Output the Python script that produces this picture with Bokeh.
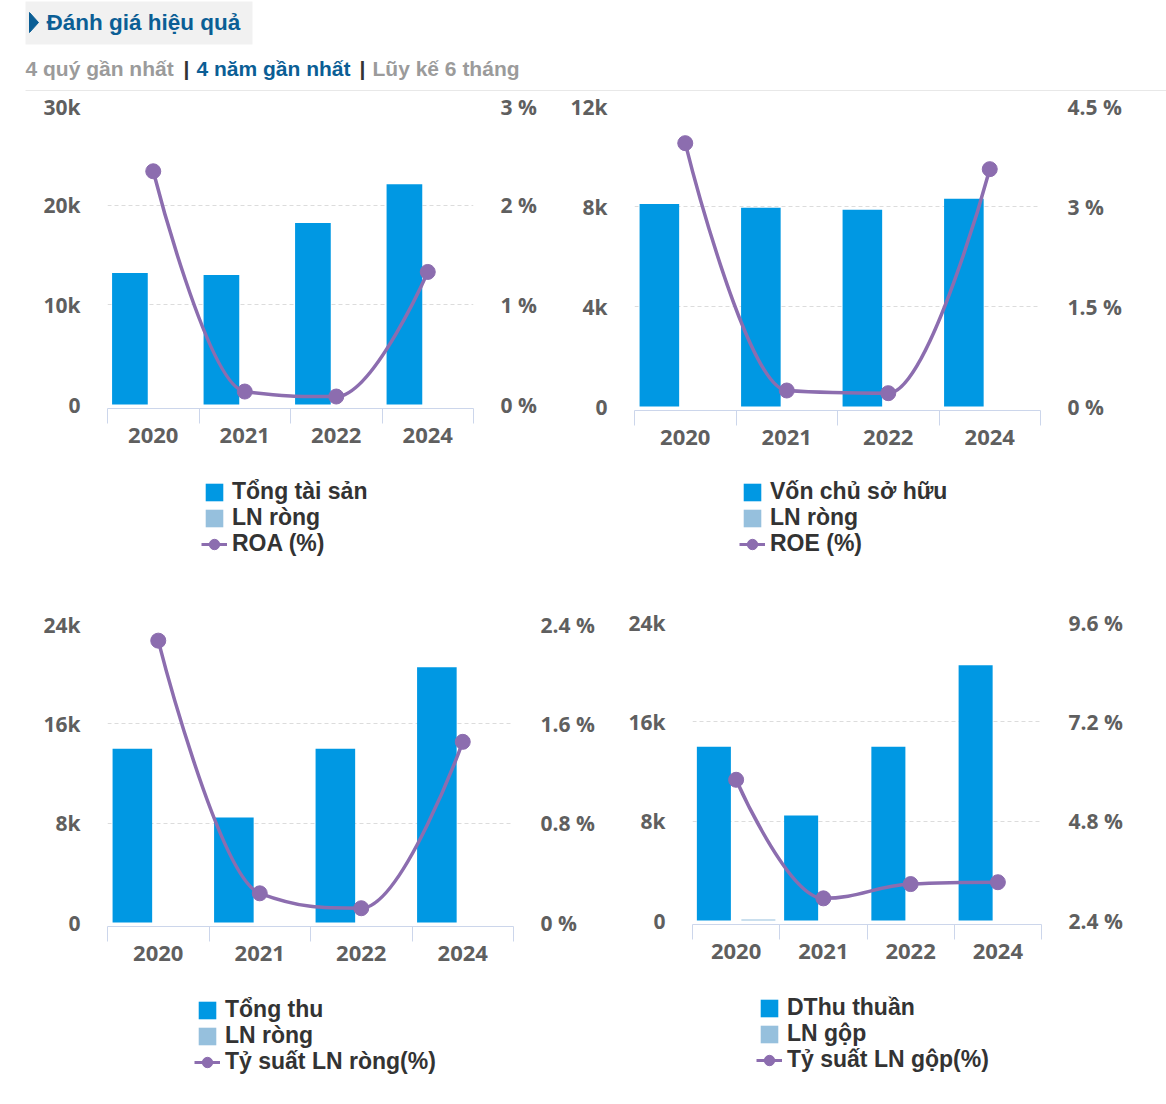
from bokeh.plotting import figure
from bokeh.models import Range1d, LinearAxis, FixedTicker, Legend, LegendItem
from bokeh.layouts import column, row
from bokeh.embed import file_html
from bokeh.resources import INLINE
from bokeh.core.properties import value

# ---------------- data ----------------
years = ["2020", "2021", "2022", "2024"]

tong_tai_san = [13200, 13000, 18200, 22100]
ln_rong_1 = [0, 0, 0, 0]
roa = [2.34, 0.13, 0.08, 1.33]

von_chu_so_huu = [8100, 7950, 7870, 8310]
ln_rong_2 = [0, 0, 0, 0]
roe = [3.95, 0.24, 0.20, 3.56]

tong_thu = [14000, 8450, 14000, 20550]
ln_rong_3 = [0, 0, 0, 0]
ty_suat_ln_rong = [2.27, 0.235, 0.115, 1.455]

dthu_thuan = [14000, 8450, 14000, 20550]
ln_gop = [80, 0, 0, 0]
ty_suat_ln_gop = [5.80, 2.935, 3.28, 3.325]

left_ticks_1 = [0, 10000, 20000, 30000]
left_labels_1 = ["0", "10k", "20k", "30k"]
right_ticks_1 = [0, 1, 2, 3]
right_labels_1 = ["0 %", "1 %", "2 %", "3 %"]

left_ticks_2 = [0, 4000, 8000, 12000]
left_labels_2 = ["0", "4k", "8k", "12k"]
right_ticks_2 = [0, 1.5, 3, 4.5]
right_labels_2 = ["0 %", "1.5 %", "3 %", "4.5 %"]

left_ticks_3 = [0, 8000, 16000, 24000]
left_labels_3 = ["0", "8k", "16k", "24k"]
right_ticks_3 = [0, 0.8, 1.6, 2.4]
right_labels_3 = ["0 %", "0.8 %", "1.6 %", "2.4 %"]

left_ticks_4 = [0, 8000, 16000, 24000]
left_labels_4 = ["0", "8k", "16k", "24k"]
right_ticks_4 = [2.4, 4.8, 7.2, 9.6]
right_labels_4 = ["2.4 %", "4.8 %", "7.2 %", "9.6 %"]

# ---------------- styles ----------------
BLUE = "#0098e3"
LIGHT = "#96c0dd"
PURPLE = "#8c6daf"
AXIS_C = "#ccd6eb"
GRID_C = "#dcdcdc"
LABEL_C = "#5f5f5f"
LEGEND_C = "#333333"
FONT = "Open Sans"
LEG_FONT = "Liberation Sans"
LEG_FS = 23
LEG_H = 26          # height of one legend row
LEG_PITCH = 26


def spline_segments(xs, ys):
    """Highcharts-style spline control points computed from the data points."""
    n = len(xs)
    lc = [None] * n
    rc = [None] * n
    for i in range(1, n - 1):
        x, y = xs[i], ys[i]
        lx, ly = xs[i - 1], ys[i - 1]
        nx, ny = xs[i + 1], ys[i + 1]
        lcx = (1.5 * x + lx) / 2.5
        lcy = (1.5 * y + ly) / 2.5
        rcx = (1.5 * x + nx) / 2.5
        rcy = (1.5 * y + ny) / 2.5
        corr = 0
        if rcx != lcx:
            corr = ((rcy - lcy) * (rcx - x)) / (rcx - lcx) + y - rcy
        lcy += corr
        rcy += corr
        if lcy > ly and lcy > y:
            lcy = max(ly, y)
            rcy = 2 * y - lcy
        elif lcy < ly and lcy < y:
            lcy = min(ly, y)
            rcy = 2 * y - lcy
        if rcy > ny and rcy > y:
            rcy = max(ny, y)
            lcy = 2 * y - rcy
        elif rcy < ny and rcy < y:
            rcy = min(ny, y)
            lcy = 2 * y - rcy
        lc[i] = (lcx, lcy)
        rc[i] = (rcx, rcy)
    seg = dict(x0=[], y0=[], x1=[], y1=[], cx0=[], cy0=[], cx1=[], cy1=[])
    for i in range(1, n):
        a = rc[i - 1] or (xs[i - 1], ys[i - 1])
        b = lc[i] or (xs[i], ys[i])
        seg["x0"].append(xs[i - 1]); seg["y0"].append(ys[i - 1])
        seg["x1"].append(xs[i]); seg["y1"].append(ys[i])
        seg["cx0"].append(a[0]); seg["cy0"].append(a[1])
        seg["cx1"].append(b[0]); seg["cy1"].append(b[1])
    return seg


def style_axis(ax, size):
    ax.major_label_text_font = FONT
    ax.major_label_text_font_style = "bold"
    ax.major_label_text_font_size = size
    ax.major_label_text_color = LABEL_C


def make_chart(fig_x0, fig_y0, width, split_y, total_h, fl, fr, ftop, zero, axis_px,
               bars, lnbars, line, lticks, llabels, rticks, rlabels,
               names, leg_left, leg_row1):
    height = split_y - fig_y0
    mbl = fl - fig_x0
    mbr = fig_x0 + width - fr
    mbt = ftop - fig_y0
    mbb = split_y - axis_px
    top_val = lticks[-1]
    per_px = top_val / (zero - ftop)
    lstart = -(axis_px - zero) * per_px
    rmin = rticks[0]
    rscale = (rticks[-1] - rmin) / top_val

    p = figure(width=width, height=height,
               x_range=Range1d(-0.5, len(years) - 0.5),
               y_range=Range1d(lstart, top_val),
               output_backend="svg", toolbar_location=None,
               min_border_left=mbl, min_border_right=mbr,
               min_border_top=mbt, min_border_bottom=mbb)
    p.extra_y_ranges = {"pct": Range1d(rmin + lstart * rscale, rticks[-1])}
    p.outline_line_color = None
    p.background_fill_color = "white"
    p.border_fill_color = "white"

    idx = list(range(len(years)))

    # x axis
    xa = p.xaxis[0]
    xa.ticker = FixedTicker(ticks=idx, minor_ticks=[i - 0.5 for i in range(len(years) + 1)])
    xa.major_label_overrides = {i: y for i, y in zip(idx, years)}
    xa.axis_line_color = AXIS_C
    xa.major_tick_line_color = None
    xa.major_tick_out = 0
    xa.major_tick_in = 0
    xa.minor_tick_line_color = AXIS_C
    xa.minor_tick_out = 15
    xa.minor_tick_in = 0
    xa.major_label_standoff = 4
    style_axis(xa, "22px")

    # left y axis
    ya = p.yaxis[0]
    ya.ticker = FixedTicker(ticks=lticks)
    ya.major_label_overrides = {t: l for t, l in zip(lticks, llabels)}
    ya.axis_line_color = None
    ya.major_tick_line_color = None
    ya.minor_tick_line_color = None
    ya.major_tick_out = 0
    ya.major_label_standoff = 27
    style_axis(ya, "21px")

    # right y axis
    ra = LinearAxis(y_range_name="pct", ticker=FixedTicker(ticks=rticks))
    ra.major_label_overrides = {t: l for t, l in zip(rticks, rlabels)}
    ra.axis_line_color = None
    ra.major_tick_line_color = None
    ra.minor_tick_line_color = None
    ra.major_tick_out = 0
    ra.major_label_standoff = 27
    style_axis(ra, "21px")
    p.add_layout(ra, "right")

    # grid
    p.xgrid.visible = False
    p.ygrid.ticker = FixedTicker(ticks=lticks[1:])
    p.ygrid.grid_line_color = GRID_C
    p.ygrid.grid_line_dash = "4 3"

    # bars
    bw = 0.39
    p.vbar(x=[i - 0.255 for i in idx], top=bars, bottom=0, width=bw,
           fill_color=BLUE, line_color=None)
    p.vbar(x=[i + 0.255 for i in idx], top=lnbars, bottom=0, width=bw,
           fill_color=LIGHT, line_color=None)

    # spline line + markers
    seg = spline_segments(idx, line)
    p.bezier(x0=seg["x0"], y0=seg["y0"], x1=seg["x1"], y1=seg["y1"],
             cx0=seg["cx0"], cy0=seg["cy0"], cx1=seg["cx1"], cy1=seg["cy1"],
             line_color=PURPLE, line_width=3.5, y_range_name="pct")
    p.scatter(x=idx, y=line, size=15, fill_color=PURPLE, line_color=PURPLE,
              y_range_name="pct")

    # legend panel: a figure below the chart (its frame is aligned with the chart's)
    lh = total_h - height
    lf = figure(width=width, height=lh, x_range=Range1d(-0.5, len(years) - 0.5),
                y_range=Range1d(lstart, top_val),
                output_backend="svg", toolbar_location=None,
                min_border_left=mbl, min_border_right=mbr,
                min_border_top=0, min_border_bottom=0,
                x_axis_location=None, y_axis_location=None)
    lf.outline_line_color = None
    lf.xgrid.visible = False
    lf.ygrid.visible = False
    g1 = lf.vbar(x=idx, top=bars, width=bw, fill_color=BLUE, line_color=None, visible=False)
    g2 = lf.vbar(x=idx, top=lnbars, width=bw, fill_color=LIGHT, line_color=None, visible=False)
    g3 = lf.line(x=idx, y=line, line_color=PURPLE, line_width=3, visible=False)
    g4 = lf.scatter(x=idx, y=line, fill_color=PURPLE, line_color=PURPLE, visible=False)
    groups = [[g1], [g2], [g3, g4]]
    fig_bottom = fig_y0 + total_h
    for k in range(3):
        center = leg_row1 + k * LEG_PITCH
        bottom = center + LEG_H / 2
        if k < 2:
            gw, gl, so = 22, leg_left, 7
        else:
            gw, gl, so = 26, leg_left - 2, 5
        legend = Legend(items=[LegendItem(label=names[k], renderers=groups[k])],
                        location=(gl - fl, fig_bottom - bottom),
                        orientation="vertical", padding=0, margin=0, spacing=0,
                        glyph_width=gw, glyph_height=min(gw, LEG_H), label_height=LEG_H,
                        label_standoff=so, border_line_color=None,
                        background_fill_alpha=0, click_policy="none",
                        label_text_font=LEG_FONT, label_text_font_style="bold",
                        label_text_font_size=f"{LEG_FS}px", label_text_color=LEGEND_C)
        lf.add_layout(legend, "center")
    return column(p, lf)


# ---------------- header ----------------
hdr = figure(width=1166, height=92, x_range=Range1d(0, 1166), y_range=Range1d(92, 0),
             output_backend="svg", toolbar_location=None, min_border=0,
             x_axis_location=None, y_axis_location=None)
hdr.outline_line_color = None
hdr.xgrid.visible = False
hdr.ygrid.visible = False
hdr.quad(left=[25], right=[252], top=[1], bottom=[44], fill_color="#f1f1f1", line_color=None)
hdr.patch(x=[29, 38, 29], y=[12, 22, 32], fill_color="#0b5e95", line_color="#0b5e95")
hdr.text(x=[46], y=[22], text=["Đánh giá hiệu quả"], text_font=value("Liberation Sans"),
         text_font_style="bold", text_font_size="22.5px", text_color="#0b5e95",
         text_baseline="middle", text_align="left")
sub_x = [25, 183, 196, 359, 372]
sub_t = ["4 quý gần nhất", "|", "4 năm gần nhất", "|", "Lũy kế 6 tháng"]
sub_c = ["#9b9b9b", "#333333", "#0b5e95", "#333333", "#9b9b9b"]
hdr.text(x=sub_x, y=[68] * 5, text=sub_t, text_color=sub_c, text_font=value("Liberation Sans"),
         text_font_style="bold", text_font_size="21px", text_baseline="middle", text_align="left")
hdr.segment(x0=[25], y0=[90], x1=[1166], y1=[90], line_color="#e8e8e8", line_width=1)

# ---------------- charts ----------------
c1 = make_chart(0, 92, 560, 465, 508, 107, 473, 105, 404, 408,
                tong_tai_san, ln_rong_1, roa, left_ticks_1, left_labels_1,
                right_ticks_1, right_labels_1,
                ["Tổng tài sản", "LN ròng", "ROA (%)"], 203, 492)
c2 = make_chart(560, 92, 606, 465, 508, 634, 1040, 106, 406, 410,
                von_chu_so_huu, ln_rong_2, roe, left_ticks_2, left_labels_2,
                right_ticks_2, right_labels_2,
                ["Vốn chủ sở hữu", "LN ròng", "ROE (%)"], 741, 492)
c3 = make_chart(0, 600, 610, 985, 504, 107, 513, 624, 922, 926,
                tong_thu, ln_rong_3, ty_suat_ln_rong, left_ticks_3, left_labels_3,
                right_ticks_3, right_labels_3,
                ["Tổng thu", "LN ròng", "Tỷ suất LN ròng(%)"], 196, 1010)
c4 = make_chart(610, 600, 556, 985, 504, 692, 1041, 622, 920, 924,
                dthu_thuan, ln_gop, ty_suat_ln_gop, left_ticks_4, left_labels_4,
                right_ticks_4, right_labels_4,
                ["DThu thuần", "LN gộp", "Tỷ suất LN gộp(%)"], 758, 1008)

layout = column(hdr, row(c1, c2), row(c3, c4))
open("out.html", "w").write(file_html(layout, INLINE))
